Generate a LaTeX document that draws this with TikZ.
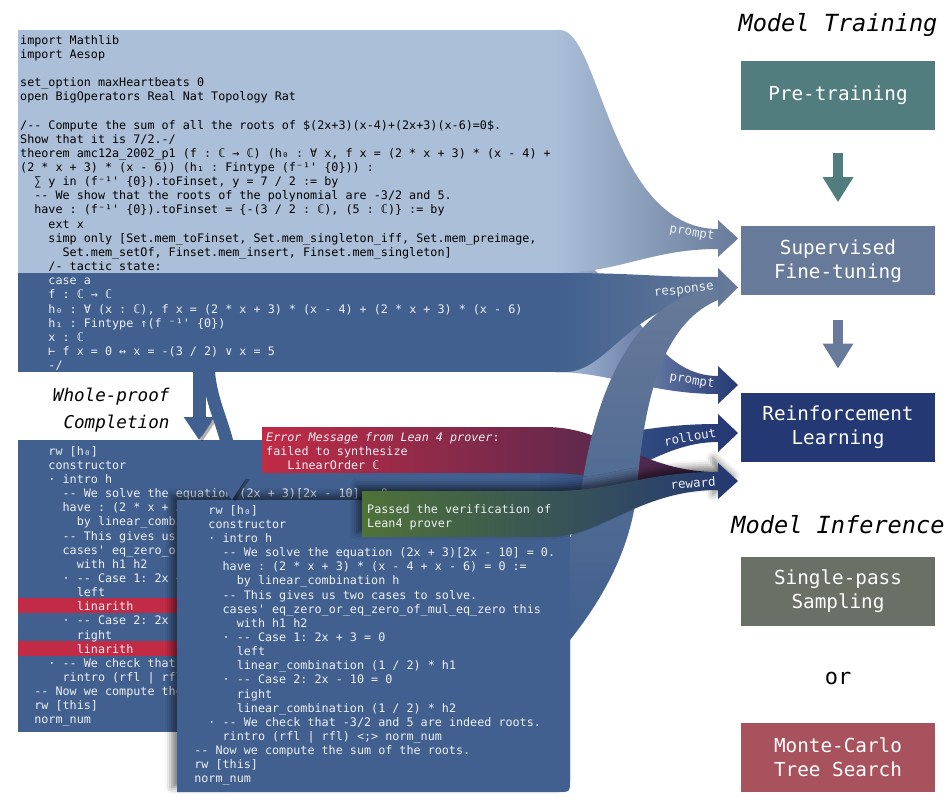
\documentclass[tikz,border=0pt]{standalone}
\usepackage{fontspec}
\setmonofont{DejaVu Sans Mono}
\usetikzlibrary{arrows.meta,positioning,shadows.blur}

\definecolor{promptblue}{HTML}{ABBFD9}
\definecolor{stateblue}{HTML}{41608F}
\definecolor{sftgray}{HTML}{677A99}
\definecolor{pretrainteal}{HTML}{527D7E}
\definecolor{rlnavy}{HTML}{243873}
\definecolor{samplegray}{HTML}{6A7066}
\definecolor{mctsred}{HTML}{A8525E}
\definecolor{errred}{HTML}{C12B45}
\definecolor{errdark}{HTML}{3A2850}
\definecolor{passgreen}{HTML}{4E7238}
\definecolor{codewhite}{HTML}{EEF1F6}

\newcommand\codefont{\ttfamily\fontsize{11.75}{14.15}\selectfont}

\begin{document}
\begin{tikzpicture}[x=1pt, y=-1pt,
    block/.style={anchor=north west, inner sep=0pt, outer sep=0pt},
    code/.style={font=\codefont, align=left, anchor=north west, inner sep=0pt},
    stagebox/.style={minimum width=194pt, minimum height=69pt, inner sep=0pt,
      align=center, text=white, font=\ttfamily\fontsize{19.3}{24}\selectfont},
    stagetitle/.style={font=\ttfamily\itshape\fontsize{23.6}{28}\selectfont},
    stagearrow/.style={line width=10pt, -{Triangle[width=29pt,length=25pt]}},
    droparrow/.style={line width=13pt, stateblue, -{Triangle[width=29pt,length=23pt]},
      preaction={draw=black, opacity=0.3, transform canvas={xshift=3pt, yshift=-2pt}}},
    flowlabel/.style={text=codewhite, font=\ttfamily\fontsize{12.5}{15}\selectfont},
    boxshadow/.style={blur shadow={shadow xshift=-5pt, shadow yshift=5pt,
      shadow blur radius=7pt, shadow opacity=55}}]

  \useasboundingbox (0,0) rectangle (949,802);

  % prompt band into reinforcement learning, behind everything
  \shade[left color=promptblue, right color=rlnavy]
    (555,255) .. controls (625,255) and (640,376) .. (718,376)
    -- (718,366) -- (738,385) -- (718,404) -- (718,394)
    .. controls (650,394) and (610,372) .. (555,372) -- cycle;

  % formal statement (prompt) and its band into SFT
  \node[block, fill=promptblue, minimum width=542pt, minimum height=243pt] (promptblock) at (18,30) {};
  \shade[left color=promptblue, right color=sftgray]
    (555,30) -- (560,30) .. controls (600,30) and (610,229) .. (718,229)
    -- (718,220) -- (738,238.5) -- (718,257) -- (718,249)
    .. controls (650,249) and (620,273) .. (555,273) -- cycle;

  % tactic state (response) and its band into SFT
  \node[block, fill=stateblue, minimum width=542pt, minimum height=99pt] (stateblock) at (18,273) {};
  \shade[left color=stateblue, right color=sftgray]
    (555,273) -- (560,273) .. controls (640,273) and (650,277) .. (718,277)
    -- (718,268) -- (738,287.5) -- (718,307) -- (718,298)
    .. controls (630,300) and (610,372) .. (565,372) -- (555,372) -- cycle;

  \node[code, text=black] (prompttext) at (20,34) {\strut import Mathlib\\
    import Aesop\\ ~\\
    set\_option maxHeartbeats 0\\
    open BigOperators Real Nat Topology Rat\\ ~\\
    /-- Compute the sum of all the roots of \$(2x+3)(x-4)+(2x+3)(x-6)=0\$.\\
    Show that it is 7/2.-/\\
    theorem amc12a\_2002\_p1 (f : ℂ → ℂ) (h₀ : ∀ x, f x = (2 * x + 3) * (x - 4) +\\
    (2 * x + 3) * (x - 6)) (h₁ : Fintype (f⁻¹' \{0\})) :\\
    ~~∑ y in (f⁻¹' \{0\}).toFinset, y = 7 / 2 := by\\
    ~~-- We show that the roots of the polynomial are -3/2 and 5.\\
    ~~have : (f⁻¹' \{0\}).toFinset = \{-(3 / 2 : ℂ), (5 : ℂ)\} := by\\
    ~~~~ext x\\
    ~~~~simp only [Set.mem\_toFinset, Set.mem\_singleton\_iff, Set.mem\_preimage,\\
    ~~~~~~Set.mem\_setOf, Finset.mem\_insert, Finset.mem\_singleton]\\
    ~~~~/- tactic state:};
  \node[code, text=codewhite] (statetext) at (20,274.7) {\strut ~~~~case a\\
    ~~~~f : ℂ → ℂ\\
    ~~~~h₀ : ∀ (x : ℂ), f x = (2 * x + 3) * (x - 4) + (2 * x + 3) * (x - 6)\\
    ~~~~h₁ : Fintype ↑(f ⁻¹' \{0\})\\
    ~~~~x : ℂ\\
    ~~~~⊢ f x = 0 ↔ x = -(3 / 2) ∨ x = 5\\
    ~~~~-/};

  % rollout band into reinforcement learning
  \shade[left color=stateblue, right color=rlnavy]
    (520,440) .. controls (620,440) and (640,424) .. (718,424)
    -- (718,414) -- (738,433) -- (718,452) -- (718,442)
    .. controls (650,442) and (610,500) .. (520,500) -- cycle;

  % first rollout: fails
  \node[block, fill=stateblue, minimum width=522pt, minimum height=292pt] (failblock) at (18,440) {};
  \fill[errred] (18,598) rectangle (300,613);
  \fill[errred] (18,641) rectangle (300,656);
  \node[code, text=codewhite] (failtext) at (20,445) {\strut ~~~~rw [h₀]\\
    ~~~~constructor\\
    ~~~~· intro h\\
    ~~~~~~-- We solve the equation (2x + 3)[2x - 10] = 0.\\
    ~~~~~~have : (2 * x + 3) * (x - 4 + x - 6) = 0 :=\\
    ~~~~~~~~by linear\_combination h\\
    ~~~~~~-- This gives us two cases to solve.\\
    ~~~~~~cases' eq\_zero\_or\_eq\_zero\_of\_mul\_eq\_zero this\\
    ~~~~~~~~with h1 h2\\
    ~~~~~~· -- Case 1: 2x + 3 = 0\\
    ~~~~~~~~left\\
    ~~~~~~~~linarith\\
    ~~~~~~· -- Case 2: 2x - 10 = 0\\
    ~~~~~~~~right\\
    ~~~~~~~~linarith\\
    ~~~~· -- We check that -3/2 and 5 are indeed roots.\\
    ~~~~~~rintro (rfl | rfl) <;> norm\_num\\
    ~~-- Now we compute the sum of the roots.\\
    ~~rw [this]\\
    ~~norm\_num};

  % second rollout: passes (round lower right corner)
  \fill[stateblue, boxshadow] (177,500) -- (570,500) -- (570,780)
    .. controls (570,792) .. (558,792) -- (177,792) -- cycle;
  \coordinate (passtop) at (232,500);
  \node[code, text=codewhite] (passtext) at (180,504) {\strut ~~~~rw [h₀]\\
    ~~~~constructor\\
    ~~~~· intro h\\
    ~~~~~~-- We solve the equation (2x + 3)[2x - 10] = 0.\\
    ~~~~~~have : (2 * x + 3) * (x - 4 + x - 6) = 0 :=\\
    ~~~~~~~~by linear\_combination h\\
    ~~~~~~-- This gives us two cases to solve.\\
    ~~~~~~cases' eq\_zero\_or\_eq\_zero\_of\_mul\_eq\_zero this\\
    ~~~~~~~~with h1 h2\\
    ~~~~~~· -- Case 1: 2x + 3 = 0\\
    ~~~~~~~~left\\
    ~~~~~~~~linear\_combination (1 / 2) * h1\\
    ~~~~~~· -- Case 2: 2x - 10 = 0\\
    ~~~~~~~~right\\
    ~~~~~~~~linear\_combination (1 / 2) * h2\\
    ~~~~· -- We check that -3/2 and 5 are indeed roots.\\
    ~~~~~~rintro (rfl | rfl) <;> norm\_num\\
    ~~-- Now we compute the sum of the roots.\\
    ~~rw [this]\\
    ~~norm\_num};

  % arrows down to the whole-proof completions
  \draw[droparrow] ([xshift=181pt, yshift=7pt]stateblock.south west) -- ([xshift=181pt]failblock.north west);
  \draw[droparrow] ([xshift=190pt, yshift=7pt]stateblock.south west)
    .. controls +(2,45) and +(-1,-70) .. (passtop);
  \node[stagetitle, font=\ttfamily\itshape\fontsize{17.6}{27}\selectfont, align=right, anchor=east]
    (wholeproof) at (173,410) {Whole-proof\\Completion};

  % error message and its band into the reward
  \shade[left color=errred, middle color=errred, right color=errdark]
    (262,427) -- (545,427) .. controls (610,427) and (640,472) .. (718,472)
    -- (718,490) .. controls (640,490) and (610,473) .. (545,473) -- (262,473) -- cycle;
  \node[code, text=codewhite] (errtext) at (266,431) {\strut\textit{Error Message from Lean 4 prover}:\\
    failed to synthesize\\
    ~~~LinearOrder ℂ};

  % second rollout as response for SFT
  \shade[top color=sftgray, bottom color=stateblue]
    (718,288) .. controls (640,295) and (595,380) .. (580,500) -- (570,540) -- (570,640)
    .. controls (610,590) and (632,540) .. (637,490)
    .. controls (645,380) and (670,320) .. (718,300) -- cycle;

  % verification passed and its band into the reward
  \shade[boxshadow, left color=passgreen, middle color=passgreen, right color=rlnavy]
    (362,491) -- (550,491) .. controls (620,491) and (640,472) .. (718,472)
    -- (718,463) -- (738,481) -- (718,499) -- (718,490)
    .. controls (640,490) and (600,537) .. (550,537) -- (362,537) -- cycle;
  \node[code, text=codewhite] (passmsg) at (367,503) {\strut Passed the verification of\\
    Lean4 prover};

  % labels on the bands
  \node[flowlabel, rotate=-9] (lprompt) at (692,233) {prompt};
  \node[flowlabel, rotate=7] (lresponse) at (684,291) {response};
  \node[flowlabel, rotate=-9] (lprompt2) at (692,381) {prompt};
  \node[flowlabel, rotate=10] (lrollout) at (690,437) {rollout};
  \node[flowlabel, rotate=4] (lreward) at (693,483) {reward};

  % training and inference stages
  \node[stagetitle] (training) at (838,25) {Model Training};
  \node[stagebox, fill=pretrainteal] (pretrain) at (838,95.5) {Pre-training};
  \node[stagebox, fill=sftgray, below=96pt of pretrain] (sft) {Supervised\\Fine-tuning};
  \node[stagebox, fill=rlnavy, below=97pt of sft] (rl) {Reinforcement\\Learning};
  \draw[stagearrow, pretrainteal] ([yshift=-23pt]pretrain.south) -- ([yshift=24pt]sft.north);
  \draw[stagearrow, sftgray] ([yshift=-24pt]sft.south) -- ([yshift=24pt]rl.north);

  \node[stagetitle] (inference) at (838,525) {Model Inference};
  \node[stagebox, fill=samplegray] (single) at (838,591) {Single-pass\\Sampling};
  \node[font=\ttfamily\fontsize{22}{26}\selectfont] (or) at (838,678) {or};
  \node[stagebox, fill=mctsred] (mcts) at (838,757) {Monte-Carlo\\Tree Search};
\end{tikzpicture}
\end{document}
